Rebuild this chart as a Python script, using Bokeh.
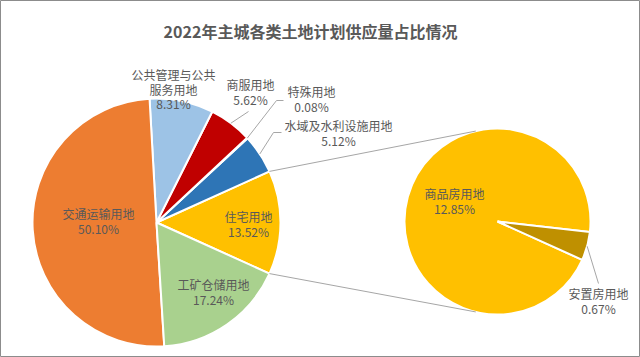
import math
from bokeh.plotting import figure
from bokeh.models import ColumnDataSource, Range1d
from bokeh.core.properties import value
from bokeh.embed import file_html
from bokeh.resources import INLINE

# ---------------- data ----------------
title_text = "2022年主城各类土地计划供应量占比情况"
main_names = ["住宅用地", "水域及水利设施用地", "特殊用地", "商服用地",
              "公共管理与公共服务用地", "交通运输用地", "工矿仓储用地"]
main_values = [13.52, 5.12, 0.08, 5.62, 8.31, 50.10, 17.24]
sub_names = ["商品房用地", "安置房用地"]
sub_values = [12.85, 0.67]

# ---------------- style / layout ----------------
main_colors = ["#FFC000", "#2E75B6", "#7F7F7F", "#C00000", "#9DC3E6", "#ED7D31", "#A9D18E"]
sub_colors = ["#FFC000", "#BF9000"]
W, H = 640, 357
FONT = "Noto Sans CJK SC"
TXT = "#595959"
LINEC = "#A6A6A6"

def fy(y):  # pixel-from-top -> data y
    return H - y

MC = (156, fy(222)); MR = 124
SC = (497, fy(221)); SR = 93
SUB_END_DEG = -6.5          # where the small slice of the second pie ends
CONN_DEG = 103.5            # connector attach angle on second pie

# label anchors (pixel coords of first line centre) and line breaks
main_label_lines = [["住宅用地"], ["水域及水利设施用地"], ["特殊用地"], ["商服用地"],
                    ["公共管理与公共", "服务用地"], ["交通运输用地"], ["工矿仓储用地"]]
main_label_pos = [(248, 216), (338, 125), (311, 91), (250, 84), (173, 74), (98, 213), (213, 284)]
main_leader_pts = [None, [(273, 132), (281, 132)], [(276, 100), (283, 100)], [(248, 111)],
                   None, None, None]
sub_label_lines = [["商品房用地"], ["安置房用地"]]
sub_label_pos = [(454, 193), (598, 293)]
sub_leader_pts = [None, [(598, 283)]]
LH = 14.5

p = figure(width=W, height=H, x_range=Range1d(0, W), y_range=Range1d(0, H),
           output_backend="svg", toolbar_location=None, min_border=0,
           background_fill_color="white", border_fill_color="white")
p.axis.visible = False
p.grid.visible = False
p.outline_line_color = "#8C8C8C"
p.outline_line_width = 1

# ---------------- main pie ----------------
tot = sum(main_values)
half = math.pi * main_values[0] / tot
starts, ends = [], []
a = -half
for v in main_values:
    da = 2 * math.pi * v / tot
    starts.append(a); ends.append(a + da); a += da
src = ColumnDataSource(dict(x=[MC[0]] * len(main_values), y=[MC[1]] * len(main_values),
                            s=starts, e=ends, c=main_colors))
p.wedge(x="x", y="y", radius=MR, start_angle="s", end_angle="e", fill_color="c",
        line_color="white", line_width=2, source=src)

# ---------------- second pie ----------------
stot = sum(sub_values)
small = 2 * math.pi * sub_values[1] / stot
s_end = math.radians(SUB_END_DEG)
sub_starts = [s_end, s_end - small]
sub_ends = [s_end - small + 2 * math.pi, s_end]
src2 = ColumnDataSource(dict(x=[SC[0]] * 2, y=[SC[1]] * 2, s=sub_starts, e=sub_ends, c=sub_colors))
p.wedge(x="x", y="y", radius=SR, start_angle="s", end_angle="e", fill_color="c",
        line_color="white", line_width=2, source=src2)

# ---------------- connectors ----------------
ca = math.radians(CONN_DEG)
for sgn in (1, -1):
    x0 = MC[0] + MR * math.cos(sgn * half); y0 = MC[1] + MR * math.sin(sgn * half)
    x1 = SC[0] + SR * math.cos(sgn * ca); y1 = SC[1] + SR * math.sin(sgn * ca)
    p.line([x0, x1], [y0, y1], line_color=LINEC, line_width=1)

# ---------------- labels ----------------
def draw_labels(names_lines, vals, pos, leaders, starts_, ends_, center, r):
    for i, lines in enumerate(names_lines):
        lines = lines + [f"{vals[i]:.2f}%"]
        x, y = pos[i]
        for k, t in enumerate(lines):
            p.text(x=[x], y=[fy(y + k * LH)], text=[t], text_font=value(FONT),
                   text_font_size="12px", text_color=TXT, text_align="center",
                   text_baseline="middle")
        if leaders[i]:
            m = (starts_[i] + ends_[i]) / 2
            xs = [center[0] + r * math.cos(m)] + [q[0] for q in leaders[i]]
            ys = [center[1] + r * math.sin(m)] + [fy(q[1]) for q in leaders[i]]
            p.line(xs, ys, line_color=LINEC, line_width=1)

draw_labels(main_label_lines, main_values, main_label_pos, main_leader_pts, starts, ends, MC, MR)
draw_labels(sub_label_lines, sub_values, sub_label_pos, sub_leader_pts, sub_starts, sub_ends, SC, SR)

# ---------------- title ----------------
p.text(x=[W / 2 - 10], y=[fy(30)], text=[title_text], text_font=value(FONT),
       text_font_size="16px", text_font_style="bold", text_color=TXT,
       text_align="center", text_baseline="middle")

open("out.html", "w").write(file_html(p, INLINE))
